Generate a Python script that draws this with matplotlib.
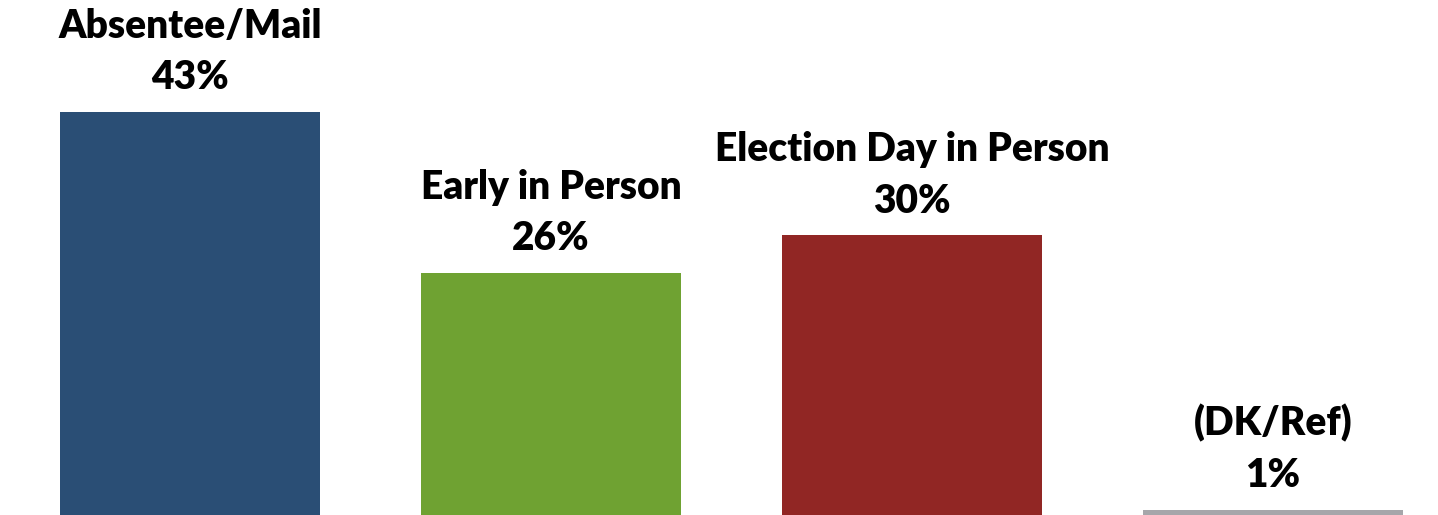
import matplotlib.pyplot as plt

categorias = ["Absentee/Mail", "Early in Person", "Election Day in Person", "(DK/Ref)"]
valores = [43, 26, 30, 1]
colores = ["#2A4E75", "#6FA232", "#912624", "#A6A6AA"]

plt.rcParams['font.family'] = ['Lato', 'DejaVu Sans']

fig = plt.figure(figsize=(14.38, 5.15), dpi=100)
ax = fig.add_axes([0, 0, 1, 1])

x = list(range(len(valores)))
ax.bar(x, valores, width=0.72, color=colores)

for i, v in enumerate(valores):
    ax.annotate(f"{categorias[i]}\n{v}%", (i, v), xytext=(0, 11), textcoords="offset points",
                ha="center", va="bottom", fontsize=28, fontweight="heavy", linespacing=1.48)

ax.set_xlim(-0.5263, 3.457)
ax.set_ylim(0.42, 54.8)
ax.axis("off")

plt.savefig("out.png", dpi=100)
